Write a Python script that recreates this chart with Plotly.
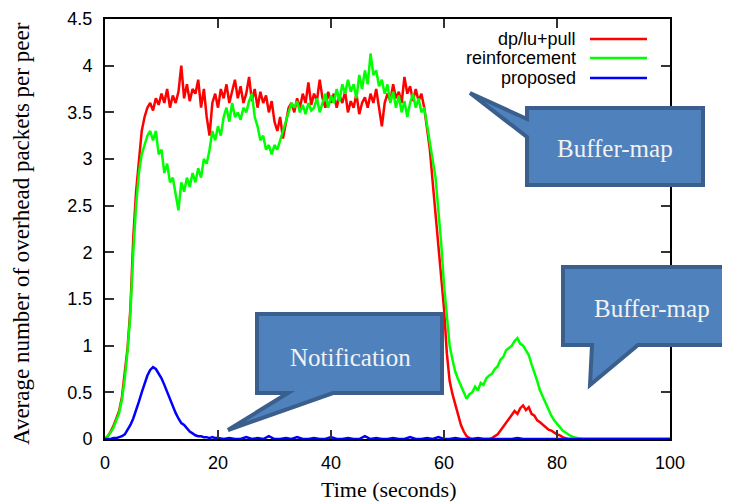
import plotly.graph_objects as go

# ---------------- data ----------------
series_names = ["dp/lu+pull", "reinforcement", "proposed"]
series_colors = ["#ff0000", "#00ff00", "#0000ff"]

t_main = [i * 0.5 for i in range(171)]  # 0 .. 85 s
t_tail = [90, 95, 100]

red_vals = [
    0, 0.03, 0.08, 0.14, 0.22, 0.3, 0.45, 0.7, 0.98, 1.4,
    2.15, 2.65, 3.0, 3.3, 3.45, 3.55, 3.6, 3.52, 3.65, 3.58,
    3.7, 3.6, 3.75, 3.55, 3.68, 3.6, 3.72, 4.0, 3.65, 3.8,
    3.62, 3.75, 3.7, 3.85, 3.55, 3.75, 3.45, 3.25, 3.6, 3.7,
    3.55, 3.75, 3.65, 3.8, 3.6, 3.72, 3.85, 3.65, 3.78, 3.6,
    3.7, 3.88, 3.62, 3.75, 3.55, 3.72, 3.6, 3.68, 3.5, 3.62,
    3.4, 3.3, 3.45, 3.22, 3.4, 3.55, 3.6, 3.5, 3.65, 3.55,
    3.7, 3.6, 3.82, 3.58, 3.7, 3.62, 3.85, 3.65, 3.55, 3.72,
    3.6, 3.7, 3.55, 3.68, 3.6, 3.72, 3.5, 3.62, 3.55, 3.7,
    3.48, 3.6, 3.66, 3.55, 3.7, 3.6, 3.75, 3.55, 3.35, 3.6,
    3.7, 3.62, 3.8, 3.65, 3.72, 3.6, 3.88, 3.7, 3.78, 3.62,
    3.75, 3.62, 3.7, 3.55, 3.35, 3.1, 2.75, 2.4, 2.1, 1.75,
    1.4, 0.92, 0.62, 0.48, 0.36, 0.26, 0.15, 0.08, 0.03, 0.01,
    0, 0, 0, 0, 0, 0, 0, 0.01, 0.03, 0.05,
    0.09, 0.13, 0.17, 0.21, 0.25, 0.3, 0.27, 0.33, 0.36, 0.31,
    0.34, 0.27, 0.25, 0.2, 0.18, 0.15, 0.13, 0.1, 0.09, 0.07,
    0.05, 0.04, 0.02, 0.01, 0, 0, 0, 0, 0, 0,
    0,
]

green_vals = [
    0, 0.03, 0.07, 0.12, 0.2, 0.28, 0.42, 0.65, 0.95, 1.35,
    2.0, 2.5, 2.85, 3.05, 3.15, 3.25, 3.3, 3.2, 3.3, 3.05,
    3.1, 2.85, 2.95, 2.75, 2.8, 2.6, 2.45, 2.75, 2.65, 2.8,
    2.7, 2.85, 2.75, 2.9, 2.8, 3.0, 2.95, 3.1, 3.3, 3.2,
    3.35, 3.25, 3.45, 3.55, 3.4, 3.6, 3.45, 3.5, 3.42, 3.55,
    3.5, 3.62, 3.7, 3.45, 3.35, 3.2, 3.25, 3.1, 3.15, 3.05,
    3.15, 3.1, 3.2, 3.3, 3.4, 3.5, 3.6, 3.55, 3.62, 3.5,
    3.58, 3.48, 3.6, 3.52, 3.55, 3.65, 3.5, 3.6, 3.7, 3.55,
    3.68, 3.6, 3.75, 3.62, 3.8, 3.7, 3.85, 3.72, 3.8, 3.65,
    3.9, 3.75, 3.95, 3.8, 4.13, 3.9, 3.95, 3.78, 3.85, 3.7,
    3.8, 3.6, 3.72, 3.55, 3.68, 3.5, 3.62, 3.45, 3.6, 3.7,
    3.55, 3.65, 3.5, 3.55, 3.35, 3.2, 3.0, 2.8, 2.45, 2.1,
    1.65, 1.3, 1.0, 0.85, 0.72, 0.64, 0.56, 0.5, 0.43, 0.48,
    0.5, 0.56, 0.52, 0.6, 0.58, 0.65, 0.68, 0.7, 0.75, 0.78,
    0.85, 0.88, 0.95, 0.98, 1.0, 1.05, 1.08, 1.02, 1.0, 0.95,
    0.9, 0.8, 0.72, 0.62, 0.52, 0.45, 0.38, 0.3, 0.25, 0.2,
    0.16, 0.12, 0.09, 0.07, 0.05, 0.03, 0.02, 0.01, 0.005, 0,
    0,
]
tail_vals = [0, 0, 0]

t_blue_head = [i * 0.5 for i in range(41)]   # 0 .. 20 s
t_blue_tail = list(range(21, 101))           # 21 .. 100 s
blue_head = [
    0, 0, 0, 0.01, 0.01, 0.02, 0.03, 0.05, 0.1, 0.15,
    0.22, 0.3, 0.4, 0.5, 0.6, 0.68, 0.74, 0.77, 0.75, 0.7,
    0.65, 0.58, 0.5, 0.42, 0.35, 0.28, 0.22, 0.17, 0.15, 0.11,
    0.08, 0.06, 0.04, 0.03, 0.03, 0.02, 0.02, 0.01, 0.02, 0.01,
    0.01,
]
blue_tail = [
    0, 0.01, 0, 0, 0.02, 0, 0.01, 0, 0.03, 0,
    0, 0.01, 0, 0.02, 0, 0, 0.01, 0, 0, 0.02,
    0, 0, 0.01, 0, 0, 0.03, 0, 0.01, 0, 0,
    0.01, 0, 0, 0.02, 0, 0, 0.01, 0, 0.02, 0,
    0, 0.01, 0, 0, 0, 0.01, 0, 0, 0, 0,
    0, 0, 0.01, 0, 0, 0, 0, 0, 0, 0,
    0, 0, 0, 0, 0, 0, 0, 0, 0, 0,
    0, 0, 0, 0, 0, 0, 0, 0, 0, 0,
]

x_ticks = [0, 20, 40, 60, 80, 100]
y_ticks = [0, 0.5, 1, 1.5, 2, 2.5, 3, 3.5, 4, 4.5]
x_title = "Time (seconds)"
y_title = "Average number of overhead packets per peer"
callout_texts = ["Buffer-map", "Buffer-map", "Notification"]

# ---------------- figure ----------------
OFF = 8                      # page body margin offset
W, H = 730 - OFF, 502 - OFF
ML, MR, MT, MB = 105 - OFF, 60, 19 - OFF, 63
PW, PH = W - ML - MR, H - MT - MB


def px(x):
    # page pixel x -> paper coordinate
    return (x - OFF - ML) / PW


def py(y):
    # page pixel y -> paper coordinate
    return (H - MB - (y - OFF)) / PH


fig = go.Figure()
xs = [t_main + t_tail, t_main + t_tail, t_blue_head + t_blue_tail]
ys = [red_vals + tail_vals, green_vals + tail_vals, blue_head + blue_tail]
for name, col, x, y in zip(series_names, series_colors, xs, ys):
    fig.add_trace(go.Scatter(x=x, y=y, mode="lines", name=name,
                             line=dict(color=col, width=2.5), showlegend=False))

sans = "Liberation Sans, Arial, sans-serif"
serif = "Liberation Serif, Times New Roman, serif"

axis_common = dict(showline=True, linecolor="black", linewidth=2, mirror="ticks",
                   ticks="inside", ticklen=9, tickwidth=1.5, tickcolor="#333333",
                   showgrid=False, zeroline=False, automargin=False,
                   tickfont=dict(family=sans, size=18, color="black"))

fig.update_xaxes(range=[0, 100], tickvals=x_ticks, ticklabelstandoff=6, **axis_common)
fig.update_yaxes(range=[0, 4.5], tickvals=y_ticks, ticklabelstandoff=7, **axis_common)

shapes = []
annotations = []

# axis titles
annotations.append(dict(xref="paper", yref="paper", x=px(388), y=py(489),
                        xanchor="center", yanchor="middle", showarrow=False,
                        text=x_title, font=dict(family=serif, size=22, color="black")))
annotations.append(dict(xref="paper", yref="paper", x=px(22), y=py(234),
                        xanchor="center", yanchor="middle", showarrow=False,
                        textangle=-90, text=y_title,
                        font=dict(family=serif, size=23, color="black")))

# legend (text left, sample line right)
leg_rows = [39, 58, 78]
for name, col, ry in zip(series_names, series_colors, leg_rows):
    shapes.append(dict(type="line", xref="paper", yref="paper",
                       x0=px(590), x1=px(647), y0=py(ry), y1=py(ry),
                       line=dict(color=col, width=2.5)))
    annotations.append(dict(xref="paper", yref="paper", x=px(578), y=py(ry),
                            xanchor="right", yanchor="middle", showarrow=False,
                            text=name, font=dict(family=sans, size=18, color="black")))


def path_of(points):
    s = "M " + " L ".join(f"{px(a):.5f},{py(b):.5f}" for a, b in points) + " Z"
    return s


# callout 1: top Buffer-map, pointer from left side
L, R, T, B = 527, 703, 108, 185
c1 = [(L, T), (R, T), (R, B), (L, B), (L, 137), (470, 93), (L, 119)]
# callout 2: right Buffer-map, pointer from bottom
L2, R2, T2, B2 = 563, 734, 267, 345
c2 = [(L2, T2), (R2, T2), (R2, B2), (638, B2), (590, 385), (592, B2), (L2, B2)]
# callout 3: Notification, pointer from bottom
L3, R3, T3, B3 = 257, 442, 314, 393
c3 = [(L3, T3), (R3, T3), (R3, B3), (333, B3), (228, 430), (288, B3), (L3, B3)]

for pts in (c1, c2, c3):
    shapes.append(dict(type="path", xref="paper", yref="paper", path=path_of(pts),
                       fillcolor="#4f81bd", line=dict(color="#3b5f8c", width=4),
                       layer="above"))

text_pos = [(615, 148), (652, 308), (350, 357)]
for txt, (tx, ty) in zip(callout_texts, text_pos):
    annotations.append(dict(xref="paper", yref="paper", x=px(tx), y=py(ty),
                            xanchor="center", yanchor="middle", showarrow=False,
                            text=txt, font=dict(family=serif, size=25, color="#f2f2f2")))

fig.update_layout(width=W, height=H, margin=dict(l=ML, r=MR, t=MT, b=MB),
                  paper_bgcolor="white", plot_bgcolor="white",
                  shapes=shapes, annotations=annotations, showlegend=False)

fig.write_html("out.html")
